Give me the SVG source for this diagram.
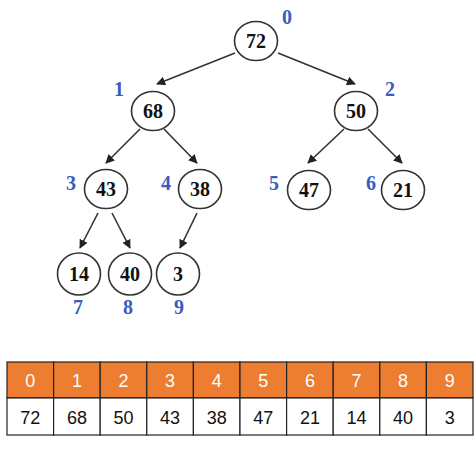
<svg xmlns="http://www.w3.org/2000/svg" width="474" height="452" viewBox="0 0 474 452">
<defs>
<marker id="ah" viewBox="0 0 10 10" refX="9" refY="5" markerWidth="9" markerHeight="9" markerUnits="userSpaceOnUse" orient="auto">
<path d="M0,0 L10,5 L0,10 z" fill="#222"/>
</marker>
</defs>
<style>
.n ellipse{fill:#fff;stroke:#333;stroke-width:1.6}
.n text{font-family:"Liberation Serif",serif;font-weight:bold;font-size:20px;fill:#111;text-anchor:middle}
.idx{font-family:"Liberation Serif",serif;font-weight:bold;font-size:20px;fill:#3a5bbf;text-anchor:middle}
.e line{stroke:#333;stroke-width:1.6;marker-end:url(#ah)}
.hd{fill:#ED7D31;stroke:#222;stroke-width:1.2}
.bd{fill:#fff;stroke:#222;stroke-width:1.2}
.ht{font-family:"Liberation Sans",sans-serif;font-size:18px;fill:#fff;text-anchor:middle}
.bt{font-family:"Liberation Sans",sans-serif;font-size:18px;fill:#111;text-anchor:middle}
</style>
<g id="edges" class="e">
<line x1="235" y1="53" x2="157" y2="84"/>
<line x1="278" y1="53" x2="355" y2="84"/>
<line x1="140" y1="129" x2="106" y2="163"/>
<line x1="164" y1="129" x2="197" y2="163"/>
<line x1="344" y1="129" x2="308" y2="163"/>
<line x1="368" y1="129" x2="402" y2="163"/>
<line x1="98" y1="213" x2="80" y2="248"/>
<line x1="112" y1="213" x2="130" y2="248"/>
<line x1="197" y1="213" x2="180" y2="248"/>
</g>
<g id="n0" class="n"><ellipse cx="256" cy="41" rx="21.5" ry="19.5"/><text x="256" y="48">72</text></g>
<g id="n1" class="n"><ellipse cx="153" cy="111" rx="21.5" ry="19.5"/><text x="153" y="118">68</text></g>
<g id="n2" class="n"><ellipse cx="356" cy="111" rx="21.5" ry="19.5"/><text x="356" y="118">50</text></g>
<g id="n3" class="n"><ellipse cx="106" cy="189" rx="21.5" ry="19.5"/><text x="106" y="196">43</text></g>
<g id="n4" class="n"><ellipse cx="200" cy="189" rx="21.5" ry="19.5"/><text x="200" y="196">38</text></g>
<g id="n5" class="n"><ellipse cx="309" cy="190" rx="21.5" ry="19.5"/><text x="309" y="197">47</text></g>
<g id="n6" class="n"><ellipse cx="403" cy="190" rx="21.5" ry="19.5"/><text x="403" y="197">21</text></g>
<g id="n7" class="n"><ellipse cx="79" cy="274" rx="21.5" ry="21"/><text x="79" y="281">14</text></g>
<g id="n8" class="n"><ellipse cx="130" cy="274" rx="21.5" ry="21"/><text x="130" y="281">40</text></g>
<g id="n9" class="n"><ellipse cx="178" cy="274" rx="21.5" ry="21"/><text x="178" y="281">3</text></g>
<g id="labels">
<text class="idx" x="287" y="24">0</text>
<text class="idx" x="119" y="96">1</text>
<text class="idx" x="390" y="96">2</text>
<text class="idx" x="71" y="190">3</text>
<text class="idx" x="166" y="190">4</text>
<text class="idx" x="274" y="190">5</text>
<text class="idx" x="371" y="190">6</text>
<text class="idx" x="78" y="314">7</text>
<text class="idx" x="128" y="314">8</text>
<text class="idx" x="179" y="314">9</text>
</g>
<g id="table">
<rect class="hd" x="7" y="362" width="46.6" height="36"/>
<rect class="hd" x="53.6" y="362" width="46.6" height="36"/>
<rect class="hd" x="100.2" y="362" width="46.6" height="36"/>
<rect class="hd" x="146.8" y="362" width="46.6" height="36"/>
<rect class="hd" x="193.4" y="362" width="46.6" height="36"/>
<rect class="hd" x="240" y="362" width="46.6" height="36"/>
<rect class="hd" x="286.6" y="362" width="46.6" height="36"/>
<rect class="hd" x="333.2" y="362" width="46.6" height="36"/>
<rect class="hd" x="379.8" y="362" width="46.6" height="36"/>
<rect class="hd" x="426.4" y="362" width="46.6" height="36"/>
<rect class="bd" x="7" y="398" width="46.6" height="37"/>
<rect class="bd" x="53.6" y="398" width="46.6" height="37"/>
<rect class="bd" x="100.2" y="398" width="46.6" height="37"/>
<rect class="bd" x="146.8" y="398" width="46.6" height="37"/>
<rect class="bd" x="193.4" y="398" width="46.6" height="37"/>
<rect class="bd" x="240" y="398" width="46.6" height="37"/>
<rect class="bd" x="286.6" y="398" width="46.6" height="37"/>
<rect class="bd" x="333.2" y="398" width="46.6" height="37"/>
<rect class="bd" x="379.8" y="398" width="46.6" height="37"/>
<rect class="bd" x="426.4" y="398" width="46.6" height="37"/>
<text class="ht" x="30.3" y="386.5">0</text>
<text class="ht" x="76.9" y="386.5">1</text>
<text class="ht" x="123.5" y="386.5">2</text>
<text class="ht" x="170.1" y="386.5">3</text>
<text class="ht" x="216.7" y="386.5">4</text>
<text class="ht" x="263.3" y="386.5">5</text>
<text class="ht" x="309.9" y="386.5">6</text>
<text class="ht" x="356.5" y="386.5">7</text>
<text class="ht" x="403.1" y="386.5">8</text>
<text class="ht" x="449.7" y="386.5">9</text>
<text class="bt" x="30.3" y="423.5">72</text>
<text class="bt" x="76.9" y="423.5">68</text>
<text class="bt" x="123.5" y="423.5">50</text>
<text class="bt" x="170.1" y="423.5">43</text>
<text class="bt" x="216.7" y="423.5">38</text>
<text class="bt" x="263.3" y="423.5">47</text>
<text class="bt" x="309.9" y="423.5">21</text>
<text class="bt" x="356.5" y="423.5">14</text>
<text class="bt" x="403.1" y="423.5">40</text>
<text class="bt" x="449.7" y="423.5">3</text>
</g>
</svg>
